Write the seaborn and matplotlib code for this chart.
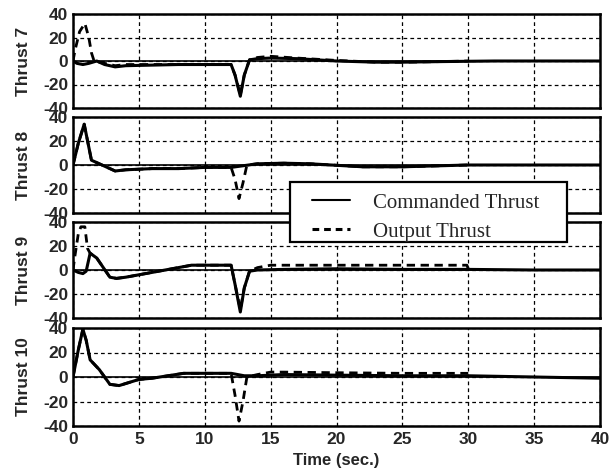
import matplotlib
matplotlib.use("Agg")
import matplotlib.pyplot as plt
import seaborn as sns
from matplotlib.lines import Line2D
from matplotlib.patches import Rectangle

# ---- data ----
thrust_labels = ["Thrust 7", "Thrust 8", "Thrust 9", "Thrust 10"]
legend_labels = ["Commanded Thrust", "Output Thrust"]
x_label = "Time (sec.)"
x_ticks = [0, 5, 10, 15, 20, 25, 30, 35, 40]
y_ticks = [-40, -20, 0, 20, 40]

cmd7_t = [0, 0.3, 0.75, 1.2, 1.8, 2.4, 3.2, 4.0, 6, 8, 10, 12.0, 12.3, 12.7, 13.0, 13.4, 14, 15, 17, 20, 23, 25, 28, 32, 36, 40]
cmd7_v = [0, -2, -3, -2, 0, -3, -5, -4, -3.5, -3, -3, -3, -12, -30, -12, 1, 2, 2.5, 2, 0, -1, -1, -0.5, 0, 0, 0]
out7_t = [0, 0.15, 0.5, 0.9, 1.2, 1.4, 1.6, 2.4, 3.2, 4.0, 6, 8, 10, 12.0, 12.3, 12.7, 13.0, 13.4, 14, 15, 17, 20, 23, 25, 28, 30]
out7_v = [0, 9, 25, 32, 20, 7, 0, -2, -4, -3, -3, -3, -3, -3, -12, -29, -12, 1, 3, 4, 2.5, 0.5, -1, -1, -0.5, 0]

cmd8_t = [0, 0.4, 0.85, 1.4, 1.8, 2.4, 3.2, 4, 6, 8, 10, 12, 14, 16, 18, 22, 25, 30, 35, 40]
cmd8_v = [0, 18, 34, 4, 2, -1, -5, -4, -3, -3, -2, -2, 1, 1.5, 1, -1.5, -1.5, 0, 0, 0]
out8_t = [0, 0.4, 0.85, 1.4, 1.8, 2.4, 3.2, 4, 6, 8, 10, 12, 12.3, 12.6, 12.9, 13.2, 14, 16, 18, 22, 25, 30]
out8_v = [0, 18, 34, 4, 2, -1, -5, -4, -3, -3, -2, -2, -12, -28, -15, 0, 1, 1.5, 1, -1.5, -1.5, 0]

cmd9_t = [0, 0.4, 0.75, 1.0, 1.3, 1.8, 2.8, 3.3, 4, 6, 8, 9, 10, 12, 12.3, 12.7, 13.0, 13.4, 14, 16, 20, 25, 30, 35, 40]
cmd9_v = [0, -2, -3, -1, 14, 10, -6, -7, -6, -2, 2, 4, 4, 4, -12, -35, -15, -1, 0, 0.5, 1, 0.5, 0.5, 0, 0]
out9_t = [0, 0.15, 0.4, 0.6, 0.9, 1.1, 1.3, 1.8, 2.8, 3.3, 4, 6, 8, 9, 10, 12, 12.3, 12.7, 13.0, 13.4, 14, 15, 20, 25, 29.9, 30]
out9_v = [0, 12, 30, 36, 36, 18, 14, 10, -6, -7, -6, -2, 2, 4, 4, 4, -12, -33, -15, -1, 2, 4, 4, 4, 4, 1]

cmd10_t = [0, 0.4, 0.75, 1.0, 1.3, 2.0, 2.8, 3.5, 5, 6, 8.4, 10, 12, 13, 14, 16, 20, 25, 30, 35, 40]
cmd10_v = [0, 22, 39, 30, 14, 6, -6, -7, -2, -1, 3, 3, 3, 1, 1, 2, 1.5, 1, 1, 0, -1]
out10_t = [0, 0.4, 0.75, 1.0, 1.3, 2.0, 2.8, 3.5, 5, 6, 8.4, 10, 12, 12.3, 12.6, 12.9, 13.2, 14, 15, 16, 20, 25, 30]
out10_v = [0, 22, 39, 30, 14, 6, -6, -7, -2, -1, 3, 3, 3, -15, -36, -20, 0, 2, 4, 4, 3.5, 3, 3]

commanded = [(cmd7_t, cmd7_v), (cmd8_t, cmd8_v), (cmd9_t, cmd9_v), (cmd10_t, cmd10_v)]
output = [(out7_t, out7_v), (out8_t, out8_v), (out9_t, out9_v), (out10_t, out10_v)]

# ---- figure ----
sns.set_style("white")
plt.rcParams["font.family"] = ["Liberation Sans", "DejaVu Sans"]
plt.rcParams["axes.unicode_minus"] = False

FW, FH = 614, 471
fig = plt.figure(figsize=(FW / 100, FH / 100), dpi=100)
left_px, right_px = 73, 600
panels_px = [(14, 108), (117, 213), (222, 318), (328, 426)]

for i, (top, bot) in enumerate(panels_px):
    ax = fig.add_axes([left_px / FW, 1 - bot / FH, (right_px - left_px) / FW, (bot - top) / FH])
    ct, cv = commanded[i]
    ot, ov = output[i]
    ax.axhline(0, color="black", linewidth=1.2, zorder=1)
    sns.lineplot(x=ct, y=cv, ax=ax, color="black", linewidth=2.2, estimator=None, sort=False)
    sns.lineplot(x=ot, y=ov, ax=ax, color="black", linewidth=2.0, linestyle=(0, (3, 2)),
                 estimator=None, sort=False)
    ax.set_xlim(0, 40)
    ax.set_ylim(-40, 40)
    ax.set_xticks(x_ticks)
    ax.set_yticks(y_ticks)
    ax.grid(True, color="black", linestyle=(0, (3, 2.5)), linewidth=0.9)
    for s in ax.spines.values():
        s.set_visible(True)
        s.set_color("black")
        s.set_linewidth(1.8)
    ax.tick_params(axis="y", length=0, pad=3.5, labelsize=12.5)
    ax.tick_params(axis="x", length=0, pad=4.5, labelsize=12.5)
    for lab in ax.get_yticklabels() + ax.get_xticklabels():
        lab.set_fontweight("bold")
    ax.set_ylabel(thrust_labels[i], fontsize=12.5, fontweight="bold", labelpad=8.5)
    ax.set_xlabel("")
    if i < 3:
        ax.set_xticklabels([])
    else:
        ax.set_xlabel(x_label, fontsize=12, fontweight="bold", labelpad=4)

# legend frame
rect = Rectangle((290 / FW, 1 - 242 / FH), 277 / FW, 60 / FH, transform=fig.transFigure,
                 facecolor="white", edgecolor="black", linewidth=1.6, zorder=4)
fig.patches.append(rect)

handles = [Line2D([0], [0], color="black", linewidth=1.5),
           Line2D([0], [0], color="black", linewidth=2.2, linestyle=(0, (2.2, 1.6)))]
leg = fig.legend(handles, legend_labels,
                 loc="upper left", bbox_to_anchor=(312 / FW, 1 - 193 / FH),
                 prop={"family": "Liberation Serif", "size": 15},
                 frameon=False, handlelength=1.83, handletextpad=1.1,
                 borderpad=0, borderaxespad=0, labelspacing=0.45)
leg.set_zorder(5)

fig.savefig("out.png", dpi=100)
